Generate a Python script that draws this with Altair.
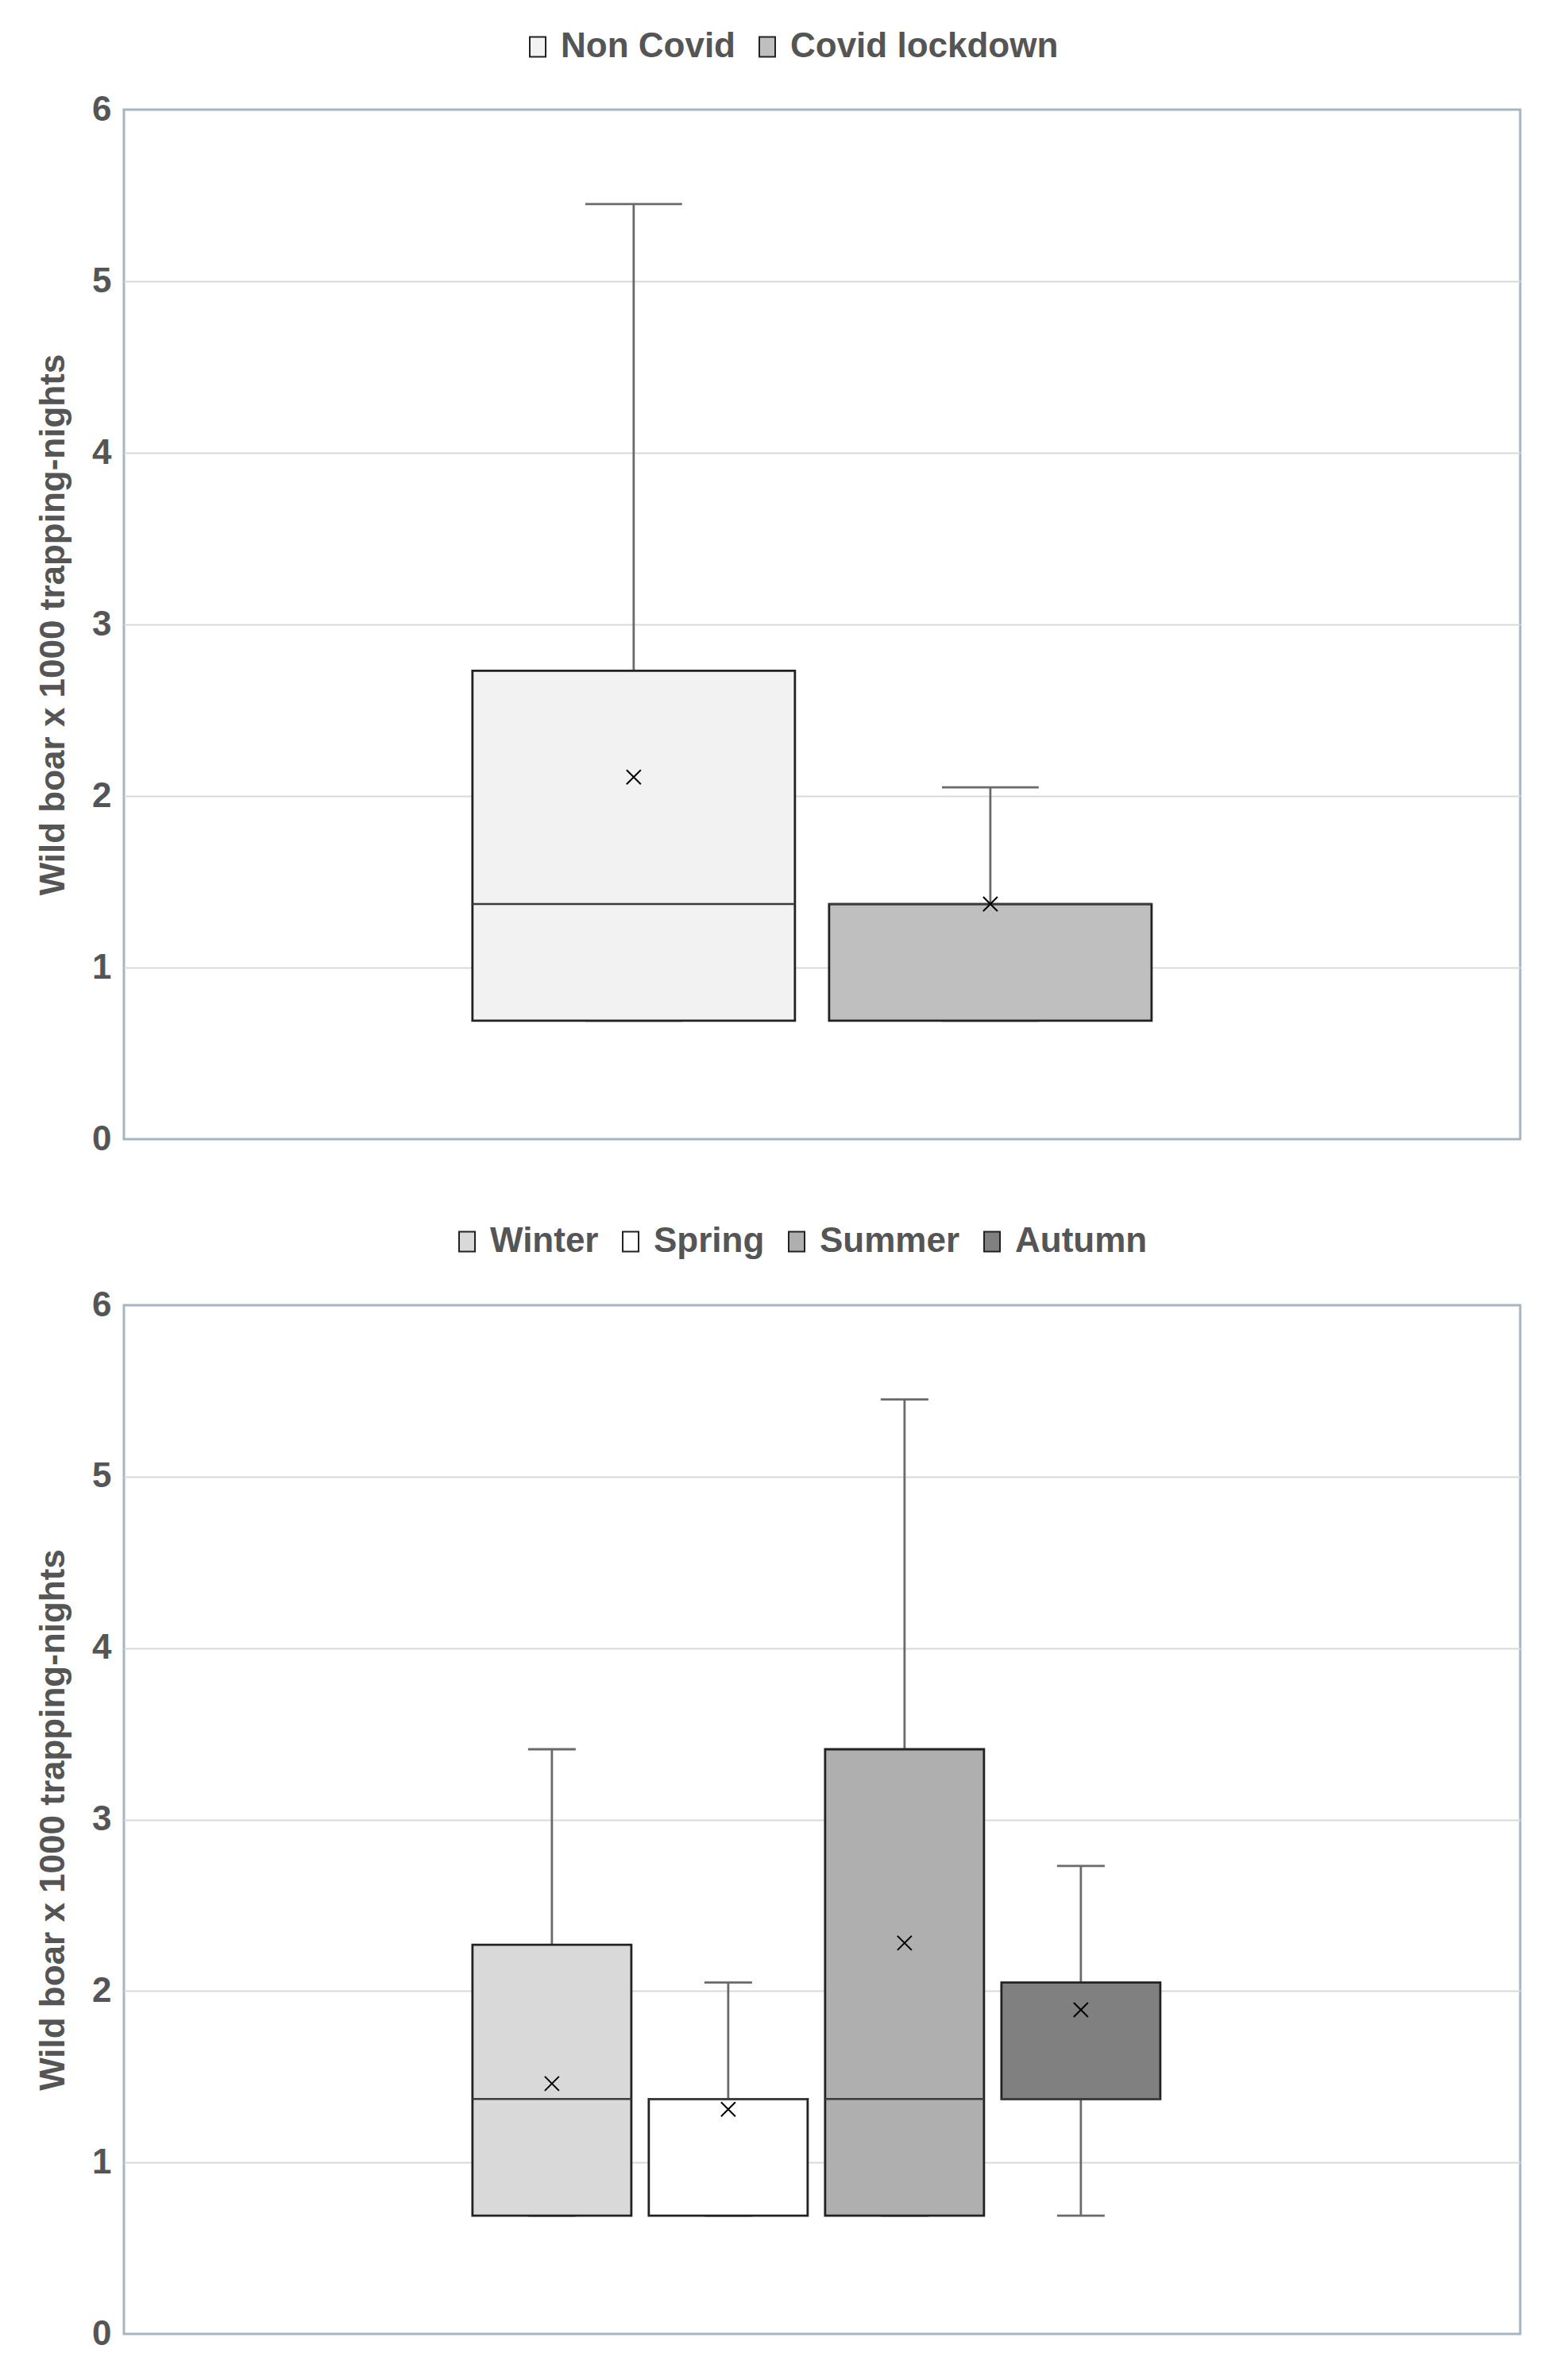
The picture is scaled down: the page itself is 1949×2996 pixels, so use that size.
import altair as alt
import pandas as pd

# ---------------- data ----------------
groups = ["Non Covid", "Covid lockdown"]
g_lo = [0.69, 0.69]
g_q1 = [0.69, 0.69]
g_med = [1.37, 1.37]
g_q3 = [2.73, 1.37]
g_hi = [5.45, 2.05]
g_mean = [2.11, 1.37]
g_colors = ["#f2f2f2", "#bfbfbf"]

seasons = ["Winter", "Spring", "Summer", "Autumn"]
s_lo = [0.69, 0.69, 0.69, 0.69]
s_q1 = [0.69, 0.69, 0.69, 1.37]
s_med = [1.37, 1.37, 1.37, 1.37]
s_q3 = [2.27, 1.37, 3.41, 2.05]
s_hi = [3.41, 2.05, 5.45, 2.73]
s_mean = [1.46, 1.31, 2.28, 1.89]
s_colors = ["#d9d9d9", "#ffffff", "#afafaf", "#808080"]

y_ticks = [0, 1, 2, 3, 4, 5, 6]
y_title = "Wild boar x 1000 trapping-nights"

# ---------------- styling ----------------
W = 1758
TXT = "#555555"
WHISK = "#6a6a6a"
BOXSTROKE = "#222222"
MEDIAN = "#3c3c3c"
FONT = "Liberation Sans"


def panel(names, lo, q1, med, q3, hi, mean, colors, H, po, align, pi2, lx, ly):
    df = pd.DataFrame(dict(cat=[""] * len(names), series=names, lo=lo, q1=q1,
                           med=med, q3=q3, hi=hi, mean=mean))
    n = len(names)
    cluster = W / (1 + 2 * po)
    bw = cluster / (n - pi2) * (1 - pi2)
    cap = 0.3 * bw
    x = alt.X("cat:N", axis=None,
              scale=alt.Scale(paddingInner=0, paddingOuter=po, align=align))
    xo = alt.XOffset("series:N", sort=names,
                     scale=alt.Scale(paddingInner=pi2, paddingOuter=0))
    ysc = alt.Scale(domain=[0, 6], nice=False, zero=True)
    yax = alt.Axis(values=y_ticks, title=y_title, domain=False, ticks=False,
                   labelFont=FONT, labelFontWeight="bold", labelFontSize=44,
                   labelColor=TXT, labelPadding=16,
                   titleFont=FONT, titleFontWeight="bold", titleFontSize=44,
                   titleColor=TXT, titlePadding=26,
                   gridColor="#dadada", gridWidth=2,
                   gridOpacity={"condition": {"test": "datum.value == 0 || datum.value == 6",
                                              "value": 0}, "value": 1})
    base = alt.Chart(df)
    upper = base.mark_rule(color=WHISK, strokeWidth=2.8).encode(
        x=x, xOffset=xo, y=alt.Y("q3:Q", scale=ysc, axis=yax), y2="hi:Q")
    lower = base.mark_rule(color=WHISK, strokeWidth=2.8).encode(
        x=x, xOffset=xo, y=alt.Y("lo:Q", scale=ysc, axis=yax), y2="q1:Q")
    cap_hi = base.mark_tick(size=cap, thickness=2.8, color=WHISK, opacity=1).encode(
        x=x, xOffset=xo, y=alt.Y("hi:Q", scale=ysc, axis=yax))
    cap_lo = base.mark_tick(size=cap, thickness=2.8, color=WHISK, opacity=1).encode(
        x=x, xOffset=xo, y=alt.Y("lo:Q", scale=ysc, axis=yax))
    box = base.mark_bar(stroke=BOXSTROKE, strokeWidth=2.8, opacity=1).encode(
        x=x, xOffset=xo, y=alt.Y("q1:Q", scale=ysc, axis=yax), y2="q3:Q",
        color=alt.Color("series:N", sort=names,
                        scale=alt.Scale(domain=names, range=colors),
                        legend=alt.Legend(orient="none", legendX=lx, legendY=ly,
                                          direction="horizontal", title=None,
                                          labelFont=FONT,
                                          labelFontWeight="bold", labelFontSize=44,
                                          labelColor=TXT, labelOffset=7,
                                          labelLimit=2000,
                                          columnPadding=18, padding=0,
                                          symbolType="M-0.8,-1L0.8,-1L0.8,1L-0.8,1Z",
                                          symbolSize=625, symbolStrokeColor=BOXSTROKE,
                                          symbolStrokeWidth=2, symbolOpacity=1)))
    med_t = base.mark_tick(size=bw, thickness=2.5, color=MEDIAN, opacity=1).encode(
        x=x, xOffset=xo, y=alt.Y("med:Q", scale=ysc, axis=yax))
    mean_p = base.mark_point(shape="M-1,-1L1,1M1,-1L-1,1", size=324, filled=False,
                             color="black", strokeWidth=2, opacity=1).encode(
        x=x, xOffset=xo, y=alt.Y("mean:Q", scale=ysc, axis=yax))
    return alt.layer(upper, lower, cap_hi, cap_lo, box, med_t, mean_p).properties(
        width=W, height=H)


top = panel(groups, g_lo, g_q1, g_med, g_q3, g_hi, g_mean, g_colors,
            1296, 0.528, 0.486, 0.0958, 499, -101)
bottom = panel(seasons, s_lo, s_q1, s_med, s_q3, s_hi, s_mean, s_colors,
               1295, 0.515, 0.492, 0.099, 410, -102)

chart = alt.vconcat(top, bottom, spacing=209, bounds="flush").resolve_scale(
    color="independent", x="independent", y="independent", xOffset="independent"
).resolve_legend(color="independent").properties(
    padding={"left": 36, "top": 27, "right": 5, "bottom": 5},
    background="white"
).configure_view(stroke="#a7b5c1", strokeWidth=3)

chart.save("out.html", embed_options={"renderer": "svg", "actions": False})
